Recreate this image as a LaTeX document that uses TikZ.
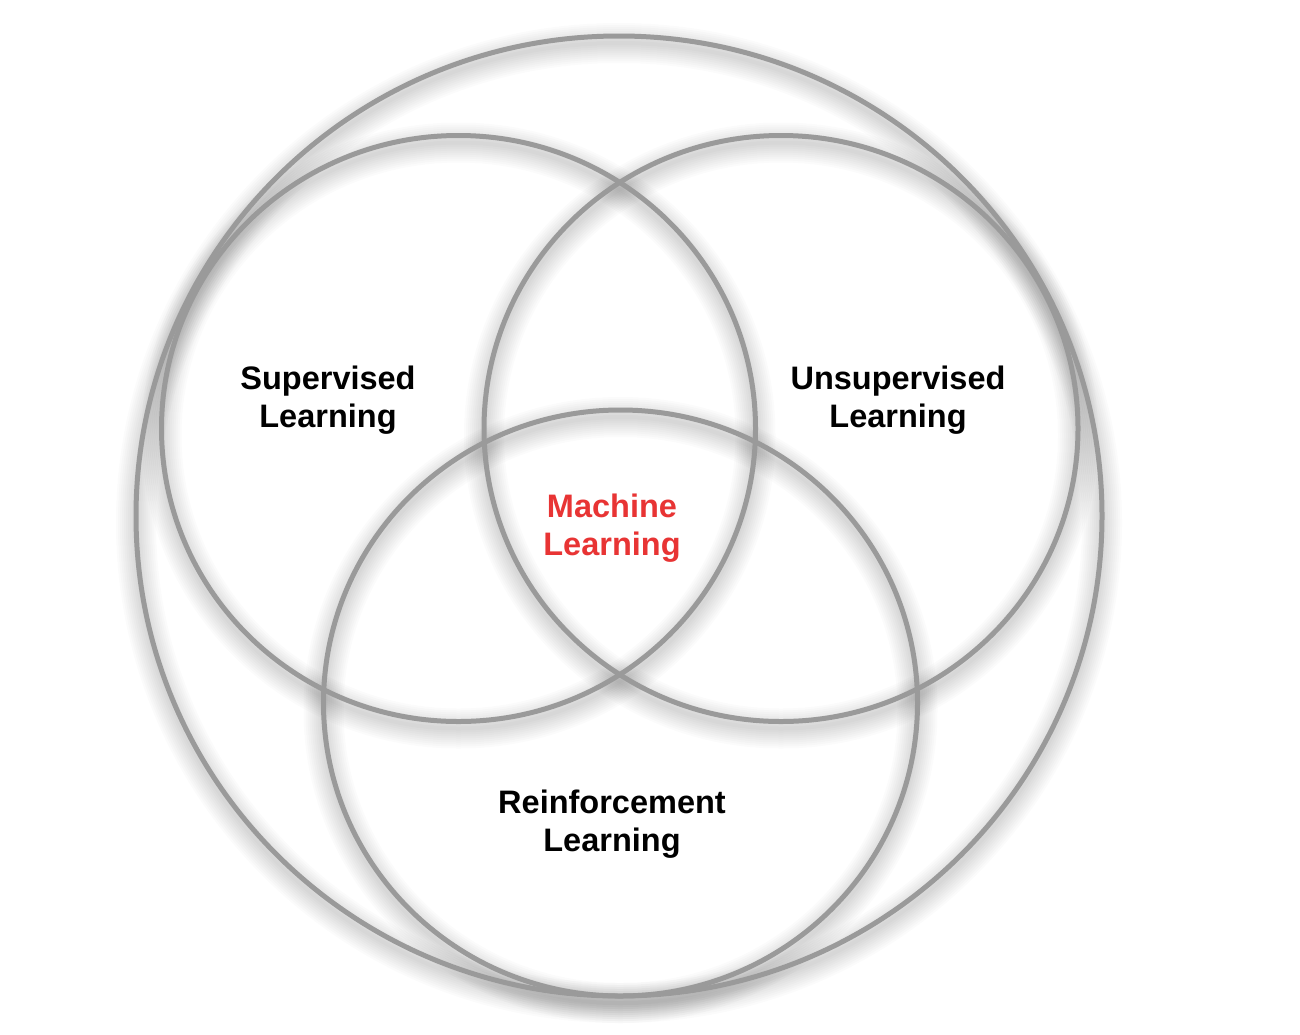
\documentclass[tikz,border=0pt]{standalone}
\usepackage{fontspec}
\setmainfont{Liberation Sans}
\definecolor{ringgray}{RGB}{154,154,154}
\definecolor{mlred}{RGB}{232,52,52}
\tikzset{
  ring/.style={draw=ringgray, line width=5pt},
  label/.style={align=center, font=\bfseries\fontsize{32.5}{38}\selectfont, text=black, inner sep=0pt},
}
% soft drop shadow under a ring: many stacked translucent strokes, shifted down
\newcommand{\ringshadow}[3]{%
  \foreach \w in {40,36,...,4}{%
    \draw[line width=\w pt, black, opacity=0.014] ([yshift=-7pt]#1) ellipse[x radius=#2, y radius=#3];
  }%
}
\begin{document}
\begin{tikzpicture}[x=1pt,y=-1pt]
  \useasboundingbox (0,0) rectangle (1300,1034);
  \fill[white] (0,0) rectangle (1300,1034);

  % ring centres
  \coordinate (outer) at (619,516);
  \coordinate (sup)   at (458.5,428.5);
  \coordinate (unsup) at (781,428.5);
  \coordinate (reinf) at (620.5,703);

  % shadows first
  \ringshadow{outer}{483pt}{480pt}
  \ringshadow{sup}{297pt}{293pt}
  \ringshadow{unsup}{297pt}{293pt}
  \ringshadow{reinf}{297pt}{293pt}

  % rings
  \draw[ring] (outer) ellipse[x radius=483pt, y radius=480pt];
  \draw[ring] (sup)   ellipse[x radius=297pt, y radius=293pt];
  \draw[ring] (unsup) ellipse[x radius=297pt, y radius=293pt];
  \draw[ring] (reinf) ellipse[x radius=297pt, y radius=293pt];

  % labels
  \node[label] (supl)   at (328,400) {Supervised\\Learning};
  \node[label] (unsupl) at (898,400) {Unsupervised\\Learning};
  \node[label, text=mlred] (mll) at (612,528) {Machine\\Learning};
  \node[label] (reinfl) at (612,824) {Reinforcement\\Learning};
\end{tikzpicture}
\end{document}
